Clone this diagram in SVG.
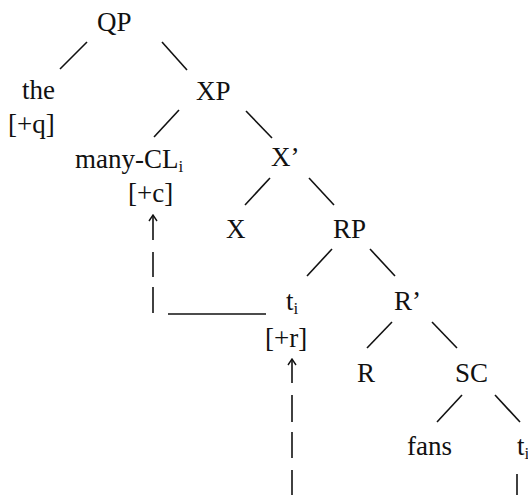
<svg xmlns="http://www.w3.org/2000/svg" width="528" height="495" viewBox="0 0 528 495">
<defs>
<style>
text{font-family:"Liberation Serif","Times New Roman",serif;font-size:27px;fill:#111}
.sub{font-size:17px}
.ln{stroke:#111;stroke-width:1.6;fill:none;stroke-linecap:butt}
</style>
<marker id="ah" viewBox="0 0 10 10" refX="9" refY="5" markerWidth="10" markerHeight="10" markerUnits="userSpaceOnUse" orient="auto">
<polyline points="3,1 9,5 3,9" fill="none" stroke="#111" stroke-width="1.4"/>
</marker>
</defs>
<rect width="528" height="495" fill="#fff"/>
<g id="connectors" class="ln">
<line x1="87" y1="42" x2="60" y2="69"/>
<line x1="162" y1="42" x2="187" y2="70"/>
<line x1="179" y1="110" x2="154" y2="137"/>
<line x1="246" y1="111" x2="272" y2="138"/>
<line x1="270" y1="178" x2="245" y2="205"/>
<line x1="309" y1="178" x2="334" y2="205"/>
<line x1="332" y1="249" x2="307" y2="276"/>
<line x1="370" y1="249" x2="395" y2="276"/>
<line x1="392" y1="322" x2="367" y2="348"/>
<line x1="432" y1="322" x2="457" y2="348"/>
<line x1="462" y1="395" x2="437" y2="422"/>
<line x1="495" y1="395" x2="520" y2="422"/>
<line x1="153" y1="240" x2="153" y2="215" marker-end="url(#ah)"/>
<line x1="153" y1="252" x2="153" y2="277"/>
<line x1="153" y1="287" x2="153" y2="313"/>
<line x1="168" y1="314" x2="266" y2="314"/>
<line x1="292" y1="383" x2="292" y2="359" marker-end="url(#ah)"/>
<line x1="292" y1="395" x2="292" y2="422"/>
<line x1="292" y1="432" x2="292" y2="458"/>
<line x1="292" y1="470" x2="292" y2="495"/>
<line x1="517" y1="474" x2="517" y2="495"/>
</g>
<g id="QP"><text x="97" y="31">QP</text></g>
<g id="the"><text x="22" y="99">the</text><text x="8" y="133">[+q]</text></g>
<g id="XP"><text x="196" y="100">XP</text></g>
<g id="many-CL"><text x="75" y="168">many-CL<tspan class="sub" dy="4">i</tspan></text><text x="128" y="202">[+c]</text></g>
<g id="Xbar"><text x="271" y="166">X’</text></g>
<g id="X"><text x="226" y="238">X</text></g>
<g id="RP"><text x="333" y="238">RP</text></g>
<g id="t1"><text x="286" y="310">t<tspan class="sub" dy="4">i</tspan></text><text x="265" y="347">[+r]</text></g>
<g id="Rbar"><text x="394" y="310">R’</text></g>
<g id="R"><text x="357" y="382">R</text></g>
<g id="SC"><text x="455" y="382">SC</text></g>
<g id="fans"><text x="407" y="455">fans</text></g>
<g id="t2"><text x="517" y="455">t<tspan class="sub" dy="4">i</tspan></text></g>
</svg>
